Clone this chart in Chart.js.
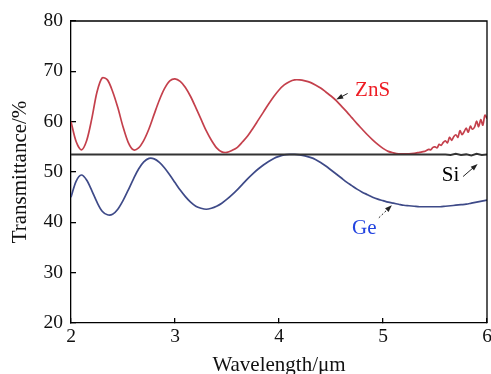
<!DOCTYPE html>
<html><head><meta charset="utf-8">
<script src="https://cdn.jsdelivr.net/npm/chart.js@4/dist/chart.umd.min.js"></script>
<style>html,body{margin:0;padding:0;background:#fff;}#wrap{width:491px;height:374px;}</style>
</head><body><div id="wrap"><canvas id="c" width="491" height="374"></canvas></div>
<script>
// Wavelength grid (µm) shared by the smooth parts of the curves
const wavelengths = [
  2.00,2.05,2.10,2.15,2.20,2.25,2.30,2.35,2.40,2.45,
  2.50,2.55,2.60,2.65,2.70,2.75,2.80,2.85,2.90,2.95,
  3.00,3.05,3.10,3.15,3.20,3.25,3.30,3.35,3.40,3.45,
  3.50,3.55,3.60,3.65,3.70,3.75,3.80,3.85,3.90,3.95,
  4.00,4.05,4.10,4.15,4.20,4.25,4.30,4.35,4.40,4.45,
  4.50,4.55,4.60,4.65,4.70,4.75,4.80,4.85,4.90,4.95,
  5.00,5.05,5.10,5.15,5.20,5.25,5.30,5.35,5.40,5.45,
  5.50,5.55,5.60,5.65,5.70,5.75,5.80,5.85,5.90,5.95,
  6.00
];
// ZnS transmittance (%) from 2.00 to 5.40 µm
const znsSmooth = [
  60.0,56.0,54.4,56.2,60.6,65.9,68.7,68.3,66.0,62.8,
  59.0,55.9,54.4,54.8,56.3,58.6,61.5,64.3,66.6,68.1,
  68.5,68.0,66.8,65.0,62.8,60.5,58.2,56.3,54.8,54.0,
  53.9,54.3,54.9,56.0,57.2,58.7,60.3,61.9,63.5,65.0,
  66.3,67.3,67.95,68.3,68.3,68.1,67.8,67.3,66.7,65.9,
  65.1,64.2,63.1,62.0,60.8,59.6,58.5,57.4,56.4,55.5,
  54.7,54.1,53.8,53.6,53.6,53.6,53.7,53.9,54.1
];
// ZnS noisy tail, 5.42 to 6.00 µm
const znsTailWavelengths = [
  5.42,5.44,5.46,5.48,5.50,5.52,5.54,5.56,5.58,5.60,
  5.62,5.64,5.66,5.68,5.70,5.72,5.74,5.76,5.78,5.80,
  5.82,5.84,5.86,5.88,5.90,5.92,5.94,5.96,5.98,6.00
];
const znsTail = [
  54.3,54.5,54.4,54.9,55.0,54.8,55.5,55.3,55.9,56.2,
  55.8,56.9,56.3,57.0,57.4,56.9,58.2,57.4,58.0,58.7,
  57.9,59.1,58.5,58.9,60.1,59.0,60.4,59.3,61.3,60.6
];
// Ge transmittance (%) on the full grid
const geValues = [
  45.0,48.2,49.4,48.4,46.3,44.0,42.2,41.5,41.6,42.6,
  44.3,46.4,48.6,50.6,52.0,52.7,52.6,51.9,50.8,49.4,
  47.9,46.4,45.1,44.0,43.2,42.8,42.6,42.8,43.2,43.8,
  44.6,45.5,46.5,47.6,48.7,49.7,50.6,51.4,52.1,52.7,
  53.1,53.4,53.5,53.5,53.4,53.2,52.9,52.5,51.9,51.2,
  50.4,49.6,48.8,48.0,47.3,46.6,46.0,45.5,45.0,44.6,
  44.3,44.0,43.8,43.6,43.4,43.3,43.2,43.1,43.1,43.1,
  43.1,43.1,43.2,43.3,43.4,43.5,43.6,43.8,44.0,44.2,
  44.4
];
// Si transmittance (%)
const siWavelengths = [2.0,2.5,3.0,3.5,4.0,4.5,5.0,5.5,5.6,5.65,5.7,5.75,5.8,5.85,5.9,5.95,6.0];
const siValues      = [53.5,53.5,53.5,53.5,53.5,53.5,53.5,53.5,53.5,53.4,53.6,53.4,53.5,53.3,53.6,53.4,53.5];

const xTicks = [2,3,4,5,6];
const yTicks = [20,30,40,50,60,70,80];

const znsPoints = wavelengths.slice(0, znsSmooth.length).map((w,i)=>({x:w,y:znsSmooth[i]}))
  .concat(znsTailWavelengths.map((w,i)=>({x:w,y:znsTail[i]})));
const gePoints = wavelengths.map((w,i)=>({x:w,y:geValues[i]}));
const siPoints = siWavelengths.map((w,i)=>({x:w,y:siValues[i]}));

const FONT = '"Liberation Serif","Times New Roman",serif';

const frameAndNotes = {
  id: 'frameAndNotes',
  afterDatasetsDraw(chart, args, opts) {
    const {ctx, chartArea: a, scales: {x, y}} = chart;
    ctx.save();
    ctx.strokeStyle = '#000'; ctx.lineWidth = 1.3;
    ctx.beginPath(); ctx.moveTo(a.left, a.top); ctx.lineTo(a.right, a.top); ctx.lineTo(a.right, a.bottom); ctx.stroke();
    opts.notes.forEach(n => {
      ctx.font = '21px ' + FONT;
      ctx.fillStyle = n.color; ctx.textAlign = 'center'; ctx.textBaseline = 'middle';
      ctx.fillText(n.text, x.getPixelForValue(n.at[0]), y.getPixelForValue(n.at[1]));
      const tx = x.getPixelForValue(n.from[0]), ty = y.getPixelForValue(n.from[1]);
      const hx = x.getPixelForValue(n.to[0]), hy = y.getPixelForValue(n.to[1]);
      const ang = Math.atan2(hy - ty, hx - tx);
      ctx.strokeStyle = '#222'; ctx.fillStyle = '#222'; ctx.lineWidth = 1;
      ctx.setLineDash(n.dash || []);
      ctx.beginPath(); ctx.moveTo(tx, ty); ctx.lineTo(hx - 5*Math.cos(ang), hy - 5*Math.sin(ang)); ctx.stroke();
      ctx.setLineDash([]);
      ctx.beginPath();
      ctx.moveTo(hx, hy);
      ctx.lineTo(hx - 7*Math.cos(ang) + 2.5*Math.sin(ang), hy - 7*Math.sin(ang) - 2.5*Math.cos(ang));
      ctx.lineTo(hx - 7*Math.cos(ang) - 2.5*Math.sin(ang), hy - 7*Math.sin(ang) + 2.5*Math.cos(ang));
      ctx.closePath(); ctx.fill();
    });
    ctx.restore();
  }
};

new Chart(document.getElementById('c'), {
  type: 'line',
  data: {
    datasets: [
      {label:'ZnS', data: znsPoints, borderColor:'#c4404c', borderWidth:1.7, pointRadius:0, tension:0.3, order:3},
      {label:'Ge', data: gePoints, borderColor:'#3e4a88', borderWidth:1.7, pointRadius:0, tension:0.3, order:2},
      {label:'Si', data: siPoints, borderColor:'#333333', borderWidth:2, pointRadius:0, tension:0, order:1}
    ]
  },
  options: {
    responsive:false, animation:false, devicePixelRatio:1,
    layout:{padding:{left:0,right:4,top:21,bottom:0}},
    plugins:{
      legend:{display:false}, tooltip:{enabled:false},
      frameAndNotes:{notes:[
        {text:'ZnS', color:'#ee1c24', at:[4.90,66.1], from:[4.66,65.6], to:[4.55,64.4]},
        {text:'Si', color:'#000', at:[5.65,49.4], from:[5.77,49.1], to:[5.91,51.6]},
        {text:'Ge', color:'#2243e0', at:[4.82,38.7], from:[4.96,40.9], to:[5.085,43.4], dash:[2,2]}
      ]}
    },
    scales:{
      x:{type:'linear', min:2, max:6,
        afterBuildTicks:s=>{s.ticks = xTicks.map(v=>({value:v}));},
        afterFit:s=>{s.height=51; s.paddingLeft=0; s.paddingRight=0;},
        grid:{drawOnChartArea:false, drawTicks:true, tickLength:-5, color:'#000', lineWidth:1.3},
        border:{display:true, color:'#000', width:1.3},
        ticks:{color:'#111', padding:7, maxRotation:0, font:{family:FONT, size:19.5}},
        title:{display:true, text:'Wavelength/μm', color:'#111', padding:{top:0,bottom:-2}, font:{family:FONT, size:21, lineHeight:1}}
      },
      y:{type:'linear', min:20, max:80,
        afterBuildTicks:s=>{s.ticks = yTicks.map(v=>({value:v}));},
        afterFit:s=>{s.width=71; s.paddingTop=0; s.paddingBottom=0;},
        grid:{drawOnChartArea:false, drawTicks:true, tickLength:-5, color:'#000', lineWidth:1.3},
        border:{display:true, color:'#000', width:1.3},
        ticks:{color:'#111', padding:13, font:{family:FONT, size:19.5}},
        title:{display:true, text:'Transmittance/%', color:'#111', padding:{top:9.5,bottom:0}, font:{family:FONT, size:21, lineHeight:1}}
      }
    }
  },
  plugins:[frameAndNotes]
});
</script>
</body></html>
